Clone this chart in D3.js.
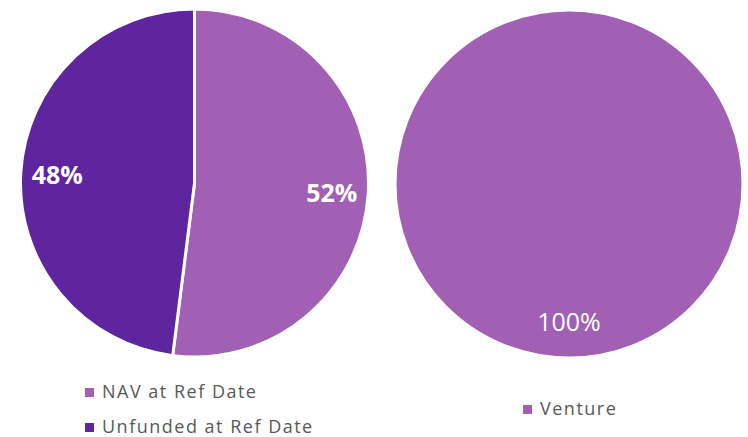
<!DOCTYPE html>
<html>
<head>
<meta charset="utf-8">
<script src="https://cdn.jsdelivr.net/npm/d3@7"></script>
<style>
  html, body { margin: 0; padding: 0; background: #ffffff; }
  svg { display: block; }
</style>
</head>
<body>
<svg id="chart" width="748" height="437"></svg>
<script>
// Data
const leftCategories = ["NAV at Ref Date", "Unfunded at Ref Date"];
const leftValues = [52, 48];
const leftLabels = ["52%", "48%"];
const rightCategories = ["Venture"];
const rightValues = [100];
const rightLabels = ["100%"];
const colors = { "NAV at Ref Date": "#a160b4", "Unfunded at Ref Date": "#5e259e", "Venture": "#a160b4" };

const svg = d3.select("#chart");
const R = 174;
const pie = d3.pie().sort(null).value(d => d.value).startAngle(0).endAngle(2 * Math.PI);
const arc = d3.arc().innerRadius(0).outerRadius(R);
const labelArc = d3.arc().innerRadius(R * 0.79).outerRadius(R * 0.79);

function drawPie(cx, cy, cats, vals, labels, bold) {
  const data = cats.map((c, i) => ({ cat: c, value: vals[i], label: labels[i] }));
  const g = svg.append("g").attr("transform", `translate(${cx},${cy})`);
  const arcs = pie(data);
  g.selectAll("path").data(arcs).enter().append("path")
    .attr("d", arc)
    .attr("fill", d => colors[d.data.cat])
    .attr("stroke", "#ffffff")
    .attr("stroke-width", 3)
    .attr("stroke-linejoin", "round");
  g.selectAll("text").data(arcs).enter().append("text")
    .attr("transform", d => `translate(${labelArc.centroid(d)})`)
    .attr("text-anchor", "middle")
    .attr("dominant-baseline", "central")
    .attr("font-family", "'Open Sans', sans-serif")
    .attr("font-size", 25)
    .attr("font-weight", bold ? "bold" : "normal")
    .attr("fill", "#ffffff")
    .text(d => d.data.label);
}

drawPie(194.5, 183, leftCategories, leftValues, leftLabels, true);
drawPie(569, 184, rightCategories, rightValues, rightLabels, false);

function legendItem(x, y, cat) {
  svg.append("rect").attr("x", x).attr("y", y - 10).attr("width", 9).attr("height", 9).attr("fill", colors[cat]);
  svg.append("text").attr("x", x + 17).attr("y", y)
    .attr("font-family", "'Open Sans', sans-serif")
    .attr("font-size", 18)
    .attr("letter-spacing", 1.5)
    .attr("fill", "#595959")
    .text(cat);
}
legendItem(85, 398, leftCategories[0]);
legendItem(85, 433, leftCategories[1]);
legendItem(523, 415, rightCategories[0]);
</script>
</body>
</html>
